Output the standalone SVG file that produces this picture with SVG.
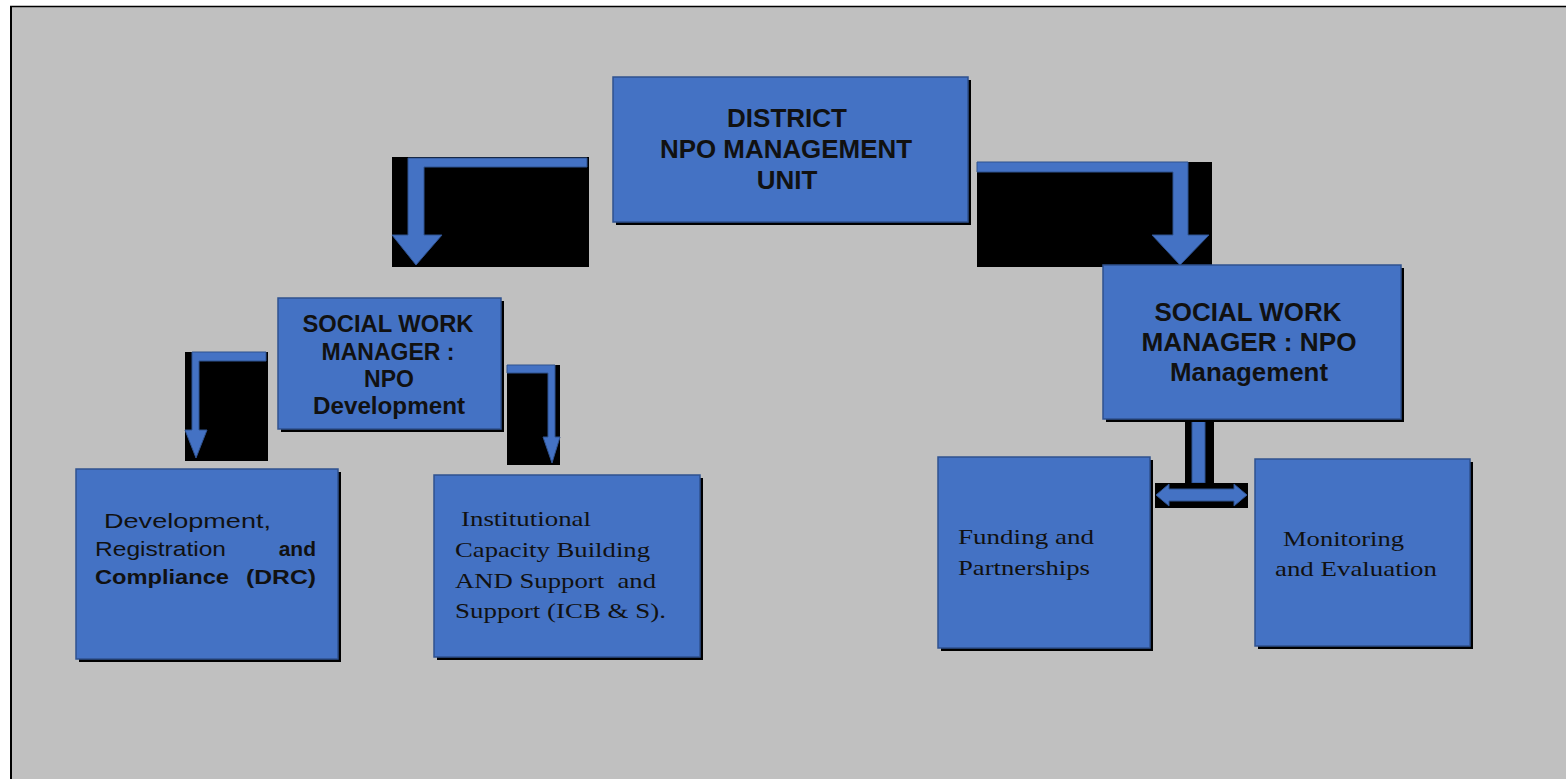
<svg xmlns="http://www.w3.org/2000/svg" width="1566" height="779" viewBox="0 0 1566 779">
<style>
.box{fill:#4472c4;stroke:#2f528f;stroke-width:1.5}
.sh{fill:#000}
.bk{fill:#000}
.ar{fill:#4472c4;stroke:#2f528f;stroke-width:1}
.hb{font-family:"Liberation Sans",Arial,sans-serif;font-weight:bold;fill:#111;text-anchor:middle}
.ss{font-family:"Liberation Sans",Arial,sans-serif;fill:#111;font-size:21px}
.sf{font-family:"Liberation Serif","Times New Roman",serif;fill:#111;font-size:22px}
</style>
<rect x="0" y="0" width="1566" height="779" fill="#ffffff"/>
<rect x="11" y="6" width="1555" height="773" fill="#c0c0c0"/>
<line x1="10" y1="6.5" x2="1566" y2="6.5" stroke="#000" stroke-width="1.5"/>
<line x1="11" y1="6" x2="11" y2="779" stroke="#000" stroke-width="2"/>

<g id="connectors">
  <rect class="bk" x="392" y="157" width="197" height="110"/>
  <path class="ar" d="M587,158 L587,167 L424,167 L424,235 L442,235 L416,265 L392,235 L408,235 L408,158 Z"/>
  <rect class="bk" x="977" y="162" width="235" height="105"/>
  <path class="ar" d="M977,162 L1188,162 L1188,235 L1209,235 L1180,265 L1152,235 L1173,235 L1173,172 L977,172 Z"/>
  <rect class="bk" x="185" y="352" width="83" height="109"/>
  <path class="ar" d="M266,352 L266,361 L199,361 L199,430 L207,430 L196,458 L185,430 L192,430 L192,352 Z"/>
  <rect class="bk" x="507" y="365" width="53" height="100"/>
  <path class="ar" d="M507,365 L555,365 L555,437 L560,437 L552,463 L543,437 L548,437 L548,373 L507,373 Z"/>
  <rect class="bk" x="1185" y="412" width="29" height="71"/>
  <rect class="ar" x="1192" y="412" width="13" height="71"/>
  <rect class="bk" x="1155" y="483" width="93" height="25"/>
  <path class="ar" d="M1156,495 L1169,484 L1169,489 L1234,489 L1234,484 L1247,495 L1234,506 L1234,501 L1169,501 L1169,506 Z"/>
</g>

<g id="district">
  <rect class="sh" x="616" y="80" width="355" height="145"/>
  <rect class="box" x="613" y="77" width="355" height="145"/>
  <text class="hb" font-size="26" x="787" y="127">DISTRICT</text>
  <text class="hb" font-size="26" x="786" y="158" textLength="252" lengthAdjust="spacingAndGlyphs">NPO MANAGEMENT</text>
  <text class="hb" font-size="26" x="787" y="189">UNIT</text>
</g>

<g id="swm-dev">
  <rect class="sh" x="281" y="301" width="223" height="131"/>
  <rect class="box" x="278" y="298" width="223" height="131"/>
  <text class="hb" font-size="23" x="388" y="332" textLength="171" lengthAdjust="spacingAndGlyphs">SOCIAL WORK</text>
  <text class="hb" font-size="23" x="388" y="360">MANAGER :</text>
  <text class="hb" font-size="23" x="389" y="387">NPO</text>
  <text class="hb" font-size="23" x="389" y="414" textLength="152" lengthAdjust="spacingAndGlyphs">Development</text>
</g>

<g id="swm-mgmt">
  <rect class="sh" x="1106" y="268" width="298" height="154"/>
  <rect class="box" x="1103" y="265" width="298" height="154"/>
  <text class="hb" font-size="26" x="1248" y="321" textLength="187" lengthAdjust="spacingAndGlyphs">SOCIAL WORK</text>
  <text class="hb" font-size="26" x="1249" y="351" textLength="215" lengthAdjust="spacingAndGlyphs">MANAGER : NPO</text>
  <text class="hb" font-size="25" x="1249" y="381" textLength="158" lengthAdjust="spacingAndGlyphs">Management</text>
</g>

<g id="drc">
  <rect class="sh" x="79" y="472" width="262" height="190"/>
  <rect class="box" x="76" y="469" width="262" height="190"/>
  <text class="ss" x="104" y="528" textLength="167" lengthAdjust="spacingAndGlyphs">Development,</text>
  <text class="ss" x="95" y="556" textLength="131" lengthAdjust="spacingAndGlyphs">Registration</text>
  <text class="ss" x="316" y="556" font-weight="bold" text-anchor="end" font-size="22">and</text>
  <text class="ss" x="95" y="584" font-weight="bold" textLength="134" lengthAdjust="spacingAndGlyphs">Compliance</text>
  <text class="ss" x="246" y="584" font-weight="bold" textLength="70" lengthAdjust="spacingAndGlyphs">(DRC)</text>
</g>

<g id="icb">
  <rect class="sh" x="437" y="478" width="266" height="182"/>
  <rect class="box" x="434" y="475" width="266" height="182"/>
  <text class="sf" x="461" y="526" textLength="130" lengthAdjust="spacingAndGlyphs">Institutional</text>
  <text class="sf" x="455" y="557" textLength="195" lengthAdjust="spacingAndGlyphs">Capacity Building</text>
  <text class="sf" x="455" y="588" textLength="201" lengthAdjust="spacingAndGlyphs">AND Support &#160;and</text>
  <text class="sf" x="455" y="618" textLength="211" lengthAdjust="spacingAndGlyphs">Support (ICB &amp; S).</text>
</g>

<g id="funding">
  <rect class="sh" x="941" y="460" width="212" height="191"/>
  <rect class="box" x="938" y="457" width="212" height="191"/>
  <text class="sf" x="958" y="544" textLength="136" lengthAdjust="spacingAndGlyphs">Funding and</text>
  <text class="sf" x="958" y="575" textLength="132" lengthAdjust="spacingAndGlyphs">Partnerships</text>
</g>

<g id="monitoring">
  <rect class="sh" x="1258" y="462" width="215" height="187"/>
  <rect class="box" x="1255" y="459" width="215" height="187"/>
  <text class="sf" x="1283" y="546" textLength="121" lengthAdjust="spacingAndGlyphs">Monitoring</text>
  <text class="sf" x="1275" y="576" textLength="162" lengthAdjust="spacingAndGlyphs">and Evaluation</text>
</g>
</svg>
